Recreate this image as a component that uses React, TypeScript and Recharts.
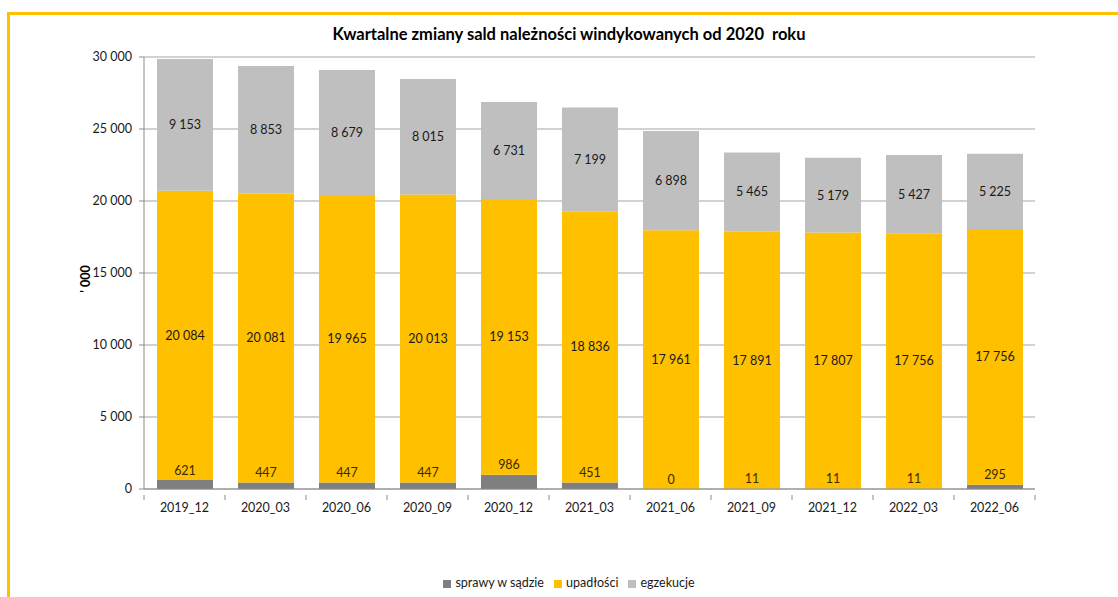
import React from "react";
import { BarChart, Bar, XAxis, YAxis, CartesianGrid, Legend, LabelList } from "recharts";

const categories = ["2019_12", "2020_03", "2020_06", "2020_09", "2020_12", "2021_03", "2021_06", "2021_09", "2021_12", "2022_03", "2022_06"];
const sprawyWSadzie = [621, 447, 447, 447, 986, 451, 0, 11, 11, 11, 295];
const upadlosci = [20084, 20081, 19965, 20013, 19153, 18836, 17961, 17891, 17807, 17756, 17756];
const egzekucje = [9153, 8853, 8679, 8015, 6731, 7199, 6898, 5465, 5179, 5427, 5225];
const yTicks = [0, 5000, 10000, 15000, 20000, 25000, 30000];
const legendOrder = ["sprawy", "upadlosci", "egzekucje"];

const data = categories.map((c, i) => ({
  name: c,
  sprawy: sprawyWSadzie[i],
  upadlosci: upadlosci[i],
  egzekucje: egzekucje[i],
}));

const FONT = "Lato, 'Open Sans', sans-serif";
const LABEL_SIZE = 12.5;
const fmt = (v: any) => {
  const n = Number(v);
  return String(n).replace(/\B(?=(\d{3})+(?!\d))/g, "\u00A0");
};

const SprawyLabel = (props: any) => {
  const { x, y, width, height, index } = props;
  const bottom = Number(y) + Number(height);
  return (
    <text x={Number(x) + Number(width) / 2} y={bottom - 10} textAnchor="middle" dominantBaseline="central" fontSize={LABEL_SIZE} fontFamily={FONT} fill="#3a2a00">
      {fmt(sprawyWSadzie[index])}
    </text>
  );
};

const CenterLabel = (props: any) => {
  const { x, y, width, height, value } = props;
  return (
    <text x={Number(x) + Number(width) / 2} y={Number(y) + Number(height) / 2} textAnchor="middle" dominantBaseline="central" fontSize={LABEL_SIZE} fontFamily={FONT} fill="#1a1a1a">
      {fmt(value)}
    </text>
  );
};

const CategoryTick = (props: any) => {
  const { x, y, payload, index, visibleTicksCount } = props;
  const half = Number(payload?.offset ?? 0);
  const axisY = Number(y) - 9;
  const last = index === (visibleTicksCount ?? categories.length) - 1;
  return (
    <g>
      <line x1={x - half} x2={x - half} y1={axisY} y2={axisY + 5} stroke="#8c8c8c" />
      {last && <line x1={x + half} x2={x + half} y1={axisY} y2={axisY + 5} stroke="#8c8c8c" />}
      <text x={x} y={Number(y) - 2} textAnchor="middle" dominantBaseline="hanging" fontSize={12.5} fontFamily={FONT} fill="#1a1a1a">
        {payload.value}
      </text>
    </g>
  );
};

export default function App() {
  return (
    <div style={{ position: "absolute", left: 0, top: 0, width: 1118, height: 597, background: "#fff", overflow: "hidden" }}>
      <div style={{ position: "absolute", left: 7, top: 12, width: 2000, height: 2000, borderTop: "3px solid #FFC000", borderLeft: "3px solid #FFC000" }} />
      <div style={{ position: "absolute", left: 0, top: 24, width: 1138, textAlign: "center", fontFamily: FONT, fontWeight: 700, fontSize: 16.5, color: "#000", whiteSpace: "pre" }}>
        {"Kwartalne zmiany sald należności windykowanych od 2020  roku"}
      </div>
      <div style={{ position: "absolute", left: 0, top: 0 }}>
        <BarChart width={1118} height={597} data={data} margin={{ top: 57, right: 83, left: 0, bottom: 78 }} barSize={56}>
          <CartesianGrid vertical={false} stroke="#a6a6a6" strokeWidth={1.2} />
          <XAxis
            dataKey="name"
            height={30}
            axisLine={{ stroke: "#8c8c8c" }}
            tickLine={false}
            tickMargin={9}
            tick={<CategoryTick />}
            interval={0}
          />
          <YAxis
            width={144}
            domain={[0, 30000]}
            ticks={yTicks}
            tickFormatter={fmt}
            axisLine={{ stroke: "#8c8c8c" }}
            tickLine={{ stroke: "#8c8c8c" }}
            tickSize={5}
            tickMargin={7}
            tick={{ fontSize: 12.5, fontFamily: FONT, fill: "#1a1a1a" }}
            label={{ value: "' 000", angle: -90, position: "center", dx: 14, dy: 6, style: { fontSize: 12.5, fontFamily: FONT, fontWeight: 700, fill: "#000" } }}
          />
          <Legend
            layout="horizontal"
            verticalAlign="middle"
            align="center"
            iconType="square"
            iconSize={8}
            itemSorter={(item: any) => legendOrder.indexOf(item.dataKey)}
            wrapperStyle={{ top: 575, left: 0, width: 1148, fontFamily: FONT, fontSize: 12.5 }}
            formatter={(value: any) => <span style={{ color: "#1a1a1a" }}>{value}</span>}
          />
          <Bar dataKey="sprawy" name="sprawy w sądzie" stackId="a" fill="#7F7F7F" isAnimationActive={false} />
          <Bar dataKey="upadlosci" name="upadłości" stackId="a" fill="#FFC000" isAnimationActive={false}>
            <LabelList dataKey="upadlosci" content={CenterLabel} />
            <LabelList dataKey="sprawy" content={SprawyLabel} />
          </Bar>
          <Bar dataKey="egzekucje" name="egzekucje" stackId="a" fill="#BFBFBF" isAnimationActive={false}>
            <LabelList dataKey="egzekucje" content={CenterLabel} />
          </Bar>
        </BarChart>
      </div>
    </div>
  );
}
